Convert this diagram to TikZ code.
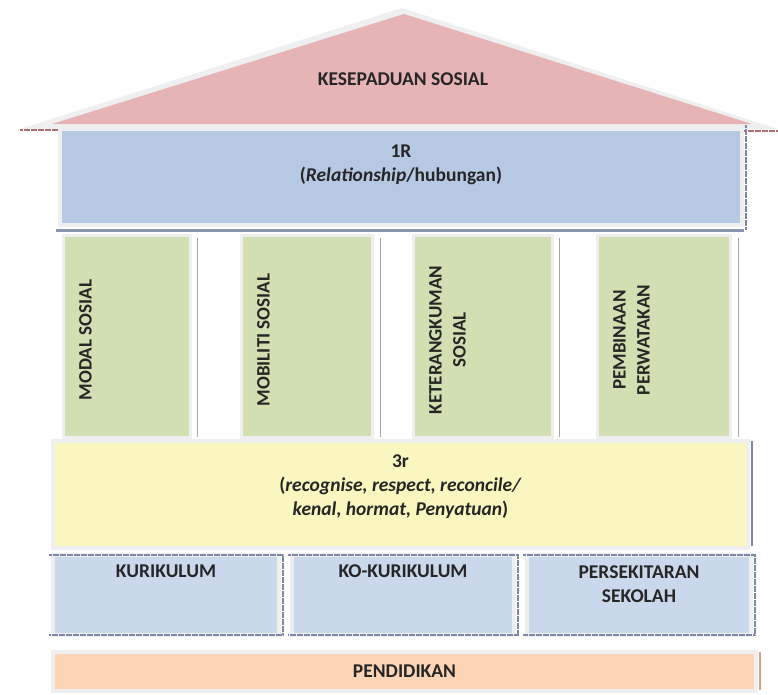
\documentclass[tikz,border=0pt]{standalone}
\usepackage{fontspec}
\setmainfont{Carlito}
\usepackage{tikz}
\usetikzlibrary{positioning}

\definecolor{roofpink}{HTML}{E6B4B4}
\definecolor{relblue}{HTML}{B5C9E2}
\definecolor{pillargreen}{HTML}{D1DFB3}
\definecolor{rryellow}{HTML}{FAF6C0}
\definecolor{baseblue}{HTML}{C9D8EA}
\definecolor{peach}{HTML}{FBD5B5}
\definecolor{rimgray}{HTML}{EFEFEF}
\definecolor{edgeblue}{HTML}{7C88A6}
\definecolor{eavebrown}{HTML}{A87070}
\definecolor{edgepeach}{HTML}{D4A27E}

\tikzset{
  block/.style={draw=rimgray, line width=4pt, inner sep=0pt},
  pillar/.style={block, fill=pillargreen, line width=3pt, minimum width=127pt, minimum height=202pt},
  lbl/.style={font=\fontsize{19.5}{24}\selectfont\bfseries, align=center, inner sep=0pt, text=black!85},
  pillartext/.style={lbl, font=\fontsize{19}{24}\selectfont\bfseries, rotate=90},
  darkedge/.style={edgeblue, line width=1.8pt, dash pattern=on 3pt off 0.5pt},
  eave/.style={eavebrown, line width=1.8pt, dash pattern=on 3pt off 0.5pt},
  gap/.style={gray!70, line width=0.8pt}
}

\begin{document}
\begin{tikzpicture}[x=1pt, y=-1pt]
    \useasboundingbox (0,0) rectangle (778,694);
    % roof
    \fill[rimgray] (20,129) -- (402,8) -- (778,129) -- cycle;
    \fill[roofpink] (52,124) -- (404,14) -- (752,124) -- cycle;
    \node[lbl] (kesepaduan) at (403,79) {KESEPADUAN SOSIAL};
    \draw[eave] (20,130) -- (58,130);
    \draw[eave] (744,131) -- (778,131);

    % 1R
    \node[block, fill=relblue, minimum width=682pt, minimum height=96pt] (relbox) at (401,177) {};
    \node[lbl, below=18pt of relbox.north] (reltext) {1R\\(\textit{Relationship}/hubungan)};
    \draw[edgeblue!90, line width=3pt] (relbox.south west) ++(-2,3) coordinate (barl) -- (barl -| relbox.south east) coordinate (barr);
    \draw[darkedge] ([xshift=2pt,yshift=2pt]relbox.north east) -- ([xshift=2pt]barr);

    % pillars
    \node[pillar] (modal) at (126.5,336) {};
    \node[pillar, minimum width=131pt] (mobiliti) at (306.5,336) {};
    \node[pillar, minimum width=139pt] (keterangkuman) at (482.5,336) {};
    \node[pillar, minimum width=133pt] (pembinaan) at (663.5,336) {};
    \node[pillartext] (modaltext) at ([xshift=24pt,yshift=-4pt]modal.west) {MODAL SOSIAL};
    \node[pillartext] (mobilititext) at ([xshift=24pt,yshift=-4pt]mobiliti.west) {MOBILITI SOSIAL};
    \node[pillartext] (keterangkumantext) at ([xshift=36pt,yshift=-4pt]keterangkuman.west) {KETERANGKUMAN\\SOSIAL};
    \node[pillartext] (pembinaantext) at ([xshift=36pt,yshift=-4pt]pembinaan.west) {PEMBINAAN\\PERWATAKAN};
    \foreach \p/\dx in {modal/6, mobiliti/7, keterangkuman/6, pembinaan/7}
      \draw[gap] ([xshift=\dx pt,yshift=-4pt]\p.north east) -- ([xshift=\dx pt,yshift=2pt]\p.south east);

    % 3r
    \node[block, fill=rryellow, minimum width=695pt, minimum height=107pt] (rrbox) at (400.5,494.5) {};
    \node[lbl, below=16pt of rrbox.north] (rrtext)
      {3r\\(\textit{recognise, respect, reconcile/}\\\textit{kenal, hormat, Penyatuan})};
    \draw[edgeblue, line width=1.2pt] ([xshift=2pt,yshift=-2pt]rrbox.north east) -- ([xshift=2pt,yshift=4pt]rrbox.south east);

    % base
    \node[block, fill=baseblue, minimum width=226pt, minimum height=80pt] (kurikulum) at (166,595) {};
    \node[block, fill=baseblue, minimum width=222pt, minimum height=80pt] (kokurikulum) at (403,595) {};
    \node[block, fill=baseblue, minimum width=224pt, minimum height=80pt] (persekitaran) at (639,595) {};
    \foreach \b in {kurikulum, kokurikulum, persekitaran}{
      \draw[darkedge] ([xshift=-2pt,yshift=-2pt]\b.north west) -- ([xshift=2pt,yshift=-2pt]\b.north east)
        -- ([xshift=2pt,yshift=2pt]\b.south east) -- ([xshift=-2pt,yshift=2pt]\b.south west);
    }
    \node[lbl, below=12pt of kurikulum.north] (kurikulumtext) {KURIKULUM};
    \node[lbl, below=12pt of kokurikulum.north] (kokurikulumtext) {KO-KURIKULUM};
    \node[lbl, below=12pt of persekitaran.north] (persekitarantext) {PERSEKITARAN\\SEKOLAH};

    % pendidikan
    \node[block, fill=peach, minimum width=703pt, minimum height=39pt] (pendidikan) at (404.5,671.5) {};
    \node[lbl] (pendidikantext) at (pendidikan) {PENDIDIKAN};
    \draw[edgepeach, line width=1.4pt] ([xshift=2pt,yshift=-2pt]pendidikan.north east) -- ([xshift=2pt,yshift=3pt]pendidikan.south east);
\end{tikzpicture}
\end{document}
